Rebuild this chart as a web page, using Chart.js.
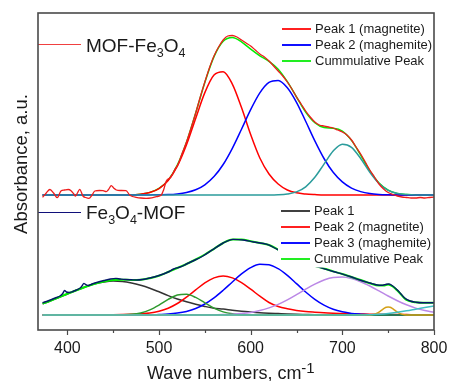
<!DOCTYPE html>
<html lang="en">
<head>
<meta charset="UTF-8">
<title>Absorbance</title>
<style>
  body { margin: 0; background: #fff; }
  canvas { display: block; }
</style>
</head>
<body>
<canvas id="chart" width="450" height="381"></canvas>

<script src="https://cdn.jsdelivr.net/npm/chart.js@4/dist/chart.umd.min.js"></script>
<script>
    // wave numbers, cm-1 (shared grid of the fitted peaks)
    const wave = [373,380,390,400,410,420,430,440,450,460,470,480,490,500,510,520,530,540,550,560,570,580,590,600,
                  610,620,630,640,650,660,670,680,690,700,710,720,730,740,750,760,770,780,790,800];
    const xTicks = [400, 500, 600, 700, 800];

    // ---- MOF-Fe3O4 (upper trace) ----
    const topDataX = [373,377,381,385,389,393,397,401,404,407,409,411,413.5,417,420,423.5,427,430,435,439,442.5,445,448,450.5,
                      453.5,458,464,468,471,475,480,486,492,497,502.5,505,508,513,517,521,525,530,535,540,545,550,555,560,
                      565,570,575,580,585,590,595,600,605,610,615,620,625,630,635,640,645,650,655,660,665,670,675,680,685,
                      690,695,700,705,710,715,720,725,730,735,740,745,750,755,760,765,770,775,780,785,790,795,800];
    const topDataY = [-2.3,2,5.5,2,-2.7,4,5,5.5,4.3,1,-1,2,5.7,-1,-2.5,-3.3,0,4,4.5,4.3,3.3,5.5,9.3,7,
                      5,4.5,4.3,0,-1.5,-2.3,-3,-3.3,-2.8,-1.7,0,5,14,18,25,31,41,53,67,82,98,113,127,139,
                      148,155,159,159.5,158,155,152,149,145,141,138,134,129,124,119,113,106,98,91,84,78,73,70,69,68,
                      67,65,63,60,55,48,41,33,25,18,11,6,2.5,0.5,-1,-2,-2.5,-3,-3,-2.5,-3,-2.5,-2];
    const topPeak1 = [0,0,0,0,0,0,0,0,0,0,0,0.8,2.5,6.4,14.5,28.8,50.2,76.6,102.4,120.0,123.3,110.9,87.4,60.4,
                      37.0,21.0,11.0,5.0,2.2,1.0,0.4,0,0,0,0,0,0,0,0,0,0,0,0,0];
    const topPeak2 = [0,0,0,0,0,0,0,0,0,0,0,0,0.1,0.2,0.4,1.1,2.5,5.2,10.2,18.4,30.5,46.7,65.8,85.4,
                      102.2,112.7,114.6,107.3,92.7,73.7,54.1,36.5,22.7,13.1,6.9,3.4,1.5,0.6,0.2,0,0,0,0,0];
    const topPeak3 = [0,0,0,0,0,0,0,0,0,0,0,0,0,0,0,0,0,0,0,0,0,0,0,0,
                      0,0,0.2,1.0,3.1,8.2,17.7,30.9,44.0,50.8,47.7,36.5,22.7,11.5,4.7,1.6,0.4,0,0,0];
    const topCumul = [0,0,0,0,0,0,0,0,0,0,0,0.8,2.6,6.6,14.9,29.9,52.7,81.8,112.6,138.4,153.8,157.6,153.2,145.8,
                      139.2,133.7,125.8,113.3,98.0,82.9,72.2,67.4,66.7,63.9,54.6,39.9,24.2,12.1,4.9,1.6,0.4,0,0,0];

    // ---- Fe3O4-MOF (lower trace) ----
    const botDataX = [373,380,388,392,395,397,399,402,406,410,414,416,418,420,423,427,432,440,447,453,458,463,470,476,
                      482,490,500,510,516,523,530,537,548,559,570,581,592,603,618,629,640,650,660,670,679,690,701,710,
                      719,730,738,744,748,751,755,760,764,768,774,780,788,800];
    const botDataY = [12.3,14.5,17.5,19,21.5,24.5,23,22.5,23.5,25,27,29,31.5,30.5,29.5,31,32.5,34.5,36,36.6,36,35.5,35.2,35,
                      35.5,37,39.5,43,46,48,51,54,59,65.6,72,75.6,75,73,70.6,65.6,60,56,52,49,46.7,43.5,40.7,38,
                      35,32,30,29.8,30.8,31,29,25,21,17,14,12.8,12.3,12.3];
    const botCumulX = [373,380,390,400,410,420,430,440,450,460,470,480,490,500,510,520,530,540,550,560,570,580,590,600,
                       610,620,630,640,650,660,670,680,690,700,710,720,730,740,745,750,755,760,770,780,790,800];
    const botCumulY = [11.5,13.8,17.5,21.2,24.8,28.2,31.2,33.5,35.0,35.3,35.0,35.2,36.8,39.3,43.0,47.0,51.0,55.5,60.5,66.2,72.0,75.5,75.5,73.8,
                       72.0,70.0,65.3,60.0,56.0,52.0,49.0,46.5,43.6,41.0,38.0,35.0,31.8,29.5,29.5,30.5,28.5,24.5,15.0,12.8,12.2,12.3];
    const botPeak1 = [11.2,13.5,17.1,21.0,24.8,28.3,31.2,33.1,34.0,33.6,32.1,29.8,26.8,23.2,19.4,16.0,13.2,10.8,8.6,6.8,6.0,4.8,3.8,3.0,
                      2.3,1.8,1.4,1.0,0.7,0.5,0.3,0.2,0.1,0,0,0,0,0,0,0,0,0,0,0];
    const botPeak2 = [0,0,0,0,0,0,0,0.2,0.3,0.5,0.8,1.2,2.0,3.8,6.8,11.5,17.9,25.1,32.1,37.1,39.0,37.1,32.3,25.8,
                      18.8,12.5,8.5,6.2,4.6,3.5,2.8,2.2,1.8,1.5,1.2,1.0,0.8,0.7,0.6,0.5,0.4,0.3,0.2,0.2];
    const botPeak3 = [0,0,0,0,0,0,0,0,0,0,0,0,0,0.4,0.9,1.9,3.6,6.5,11.0,17.1,24.7,33.0,41.1,47.4,
                      50.7,50.3,46.3,39.6,31.4,23.0,15.7,9.9,5.8,3.2,1.6,0.8,0.3,0.1,0,0,0,0,0,0];
    const botGreen = [0,0,0,0,0,0,0,0,0,0.2,0.7,2.1,5.1,9.9,15.6,20.0,20.8,17.6,12.2,6.8,3.1,1.2,0.3,0.1,
                      0,0,0,0,0,0,0,0,0,0,0,0,0,0,0,0,0,0,0,0];
    const botPurple = [0,0,0,0,0,0,0,0,0,0,0,0,0,0,0,0,0,0,0,0.2,0.4,0.8,1.5,2.6,
                       4.4,7.1,10.6,15.1,20.3,25.8,30.9,35.0,37.5,37.9,36.4,33.3,29.0,24.1,19.0,14.3,10.2,6.9,4.5,2.8];
    const botCyan = [0,0,0,0,0,0,0,0,0,0,0,0,0,0,0,0,0,0,0,0,0,0,0,0,
                     0,0,0,0,0,0,0,0,0,0,0,0,0.3,0.8,1.6,2.8,4.2,5.8,7.4,9.0];
    const goldX = [373,728,732,736,740,743,746,748,750,752,754,757,760,764,768,772,800];
    const goldY = [0,0,0.3,1.1,2.9,4.9,6.8,7.7,8.0,7.7,6.8,4.9,2.9,1.1,0.3,0,0];

    // vertical offsets of the two stacked spectra (y axis is 0..317)
    const TOP_BASE = 135;
    const BOT_BASE = 15;
    const FONT = "'Liberation Sans', Arial, sans-serif";

    function series(xs, ys, base, color, order, width) {
        return {
            data: xs.map((x, i) => ({x: x, y: ys[i] + base})),
            borderColor: color,
            borderWidth: width || 1.5,
            pointRadius: 0,
            fill: false,
            tension: 0.4,
            cubicInterpolationMode: 'monotone',
            order: order
        };
    }

    const datasets = [
        series(topDataX, topDataY, TOP_BASE, '#ee1c1c', 0, 1.3),
        series(wave, topPeak3, TOP_BASE, '#2b9c9c', 1),
        series(wave, topPeak2, TOP_BASE, '#0000ff', 2),
        series(wave, topPeak1, TOP_BASE, '#ff0000', 3),
        series(wave, topCumul, TOP_BASE, '#00ee00', 4),

        series(botDataX, botDataY, BOT_BASE, '#06186a', 0, 1.4),
        series(botCumulX, botCumulY, BOT_BASE, '#00ee00', 1, 2),
        series(wave, botCyan, BOT_BASE, '#3fbfc2', 2),
        series(goldX, goldY, BOT_BASE, '#d4a017', 3),
        series(wave, botPurple, BOT_BASE, '#bb88e6', 4),
        series(wave, botGreen, BOT_BASE, '#2e9a2e', 5),
        series(wave, botPeak3, BOT_BASE, '#0000ff', 6),
        series(wave, botPeak2, BOT_BASE, '#ff0000', 7),
        series(wave, botPeak1, BOT_BASE, '#333333', 8)
    ];

    // text with sub/superscripts: parts = [[text, size, dy], ...]
    function richText(ctx, parts, x, y) {
        parts.forEach(p => {
            ctx.font = p[1] + 'px ' + FONT;
            ctx.fillText(p[0], x, y + (p[2] || 0));
            x += ctx.measureText(p[0]).width;
        });
    }

    function legendRows(ctx, rows, x, y0) {
        ctx.font = '13px ' + FONT;
        ctx.textBaseline = 'middle';
        rows.forEach((r, i) => {
            const y = y0 + i * 16;
            ctx.strokeStyle = r[1];
            ctx.lineWidth = 2;
            ctx.beginPath();
            ctx.moveTo(x, y);
            ctx.lineTo(x + 29, y);
            ctx.stroke();
            ctx.fillStyle = '#1a1a1a';
            ctx.fillText(r[0], x + 33, y + 0.5);
        });
        ctx.textBaseline = 'alphabetic';
    }

    const decor = {
        id: 'decor',
        afterDatasetsDraw(chart) {
            const ctx = chart.ctx;
            const a = chart.chartArea;
            const xs = chart.scales.x;
            ctx.save();

            // lower legend box hides the curves behind it
            ctx.fillStyle = '#fff';
            ctx.fillRect(278, 203, 155, 64.5);

            legendRows(ctx, [['Peak 1 (magnetite)', '#ff2020'], ['Peak 2 (maghemite)', '#1010ff'],
                             ['Cummulative Peak', '#22ee22']], 282, 29);
            legendRows(ctx, [['Peak 1', '#404040'], ['Peak 2 (magnetite)', '#ff2020'],
                             ['Peak 3 (maghemite)', '#1010ff'], ['Cummulative Peak', '#22ee22']], 281, 211);

            // sample labels
            ctx.lineWidth = 1;
            ctx.strokeStyle = '#f04040';
            ctx.beginPath(); ctx.moveTo(a.left, 44.5); ctx.lineTo(81, 44.5); ctx.stroke();
            ctx.strokeStyle = '#10107a';
            ctx.beginPath(); ctx.moveTo(a.left, 212.5); ctx.lineTo(81, 212.5); ctx.stroke();
            ctx.fillStyle = '#1a1a1a';
            richText(ctx, [['MOF-Fe', 19], ['3', 12.5, 5], ['O', 19], ['4', 12.5, 5]], 86, 51.5);
            richText(ctx, [['Fe', 19], ['3', 12.5, 5], ['O', 19], ['4', 12.5, 5], ['-MOF', 19]], 86, 218.5);

            // frame
            ctx.strokeStyle = '#4a4a4a';
            ctx.lineWidth = 1.6;
            ctx.strokeRect(a.left, a.top, a.right - a.left, a.bottom - a.top);

            // major and minor ticks
            ctx.lineWidth = 1.2;
            for (let v = 400; v <= 800; v += 50) {
                const px = Math.round(xs.getPixelForValue(v)) + 0.5;
                ctx.beginPath();
                ctx.moveTo(px, a.bottom);
                ctx.lineTo(px, a.bottom + (v % 100 === 0 ? 5 : 3));
                ctx.stroke();
            }

            // axis titles
            ctx.fillStyle = '#1a1a1a';
            richText(ctx, [['Wave numbers, cm', 18], ['-1', 15, -6]], 147, 379);
            ctx.translate(27, 164);
            ctx.rotate(-Math.PI / 2);
            ctx.font = '18.5px ' + FONT;
            ctx.textAlign = 'center';
            ctx.fillText('Absorbance, a.u.', 0, 0);
            ctx.restore();
        }
    };

    new Chart(document.getElementById('chart').getContext('2d'), {
        type: 'line',
        data: {datasets: datasets},
        options: {
            responsive: false,
            animation: false,
            devicePixelRatio: 1,
            layout: {padding: {left: 38, right: 16, top: 13, bottom: 0}},
            plugins: {legend: {display: false}, tooltip: {enabled: false}},
            scales: {
                x: {
                    type: 'linear',
                    min: 368,
                    max: 800,
                    grid: {display: false, drawTicks: false},
                    border: {display: false},
                    afterBuildTicks: s => { s.ticks = xTicks.map(v => ({value: v})); },
                    afterFit: s => { s.height = 51; s.paddingLeft = 0; s.paddingRight = 0; },
                    ticks: {
                        font: {size: 16, family: FONT},
                        color: '#1a1a1a',
                        padding: 9,
                        maxRotation: 0,
                        autoSkip: false
                    }
                },
                y: {
                    display: false,
                    min: 0,
                    max: 317
                }
            }
        },
        plugins: [decor]
    });
</script>
</body>
</html>
